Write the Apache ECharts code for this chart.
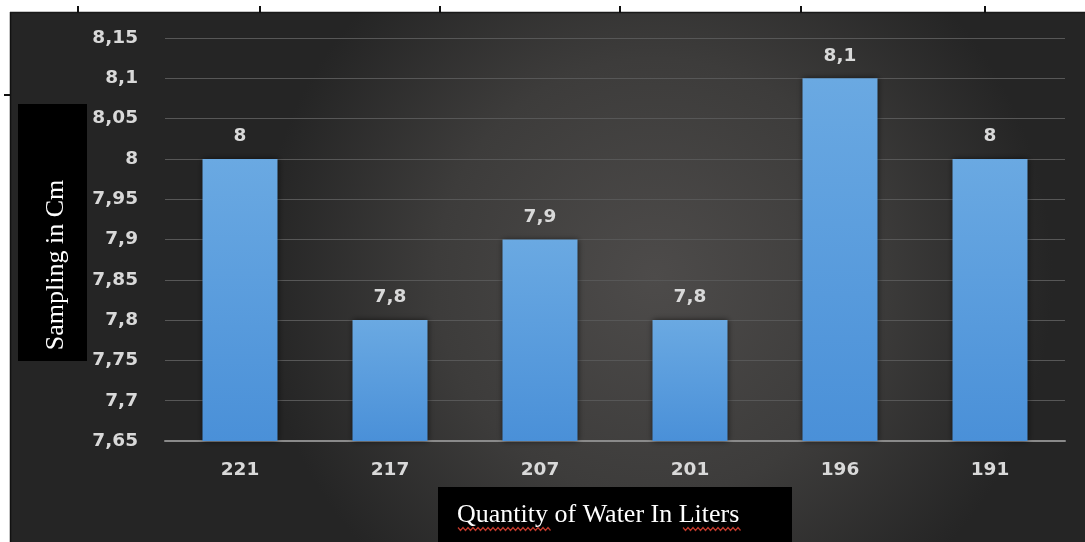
<!DOCTYPE html>
<html>
<head>
<meta charset="utf-8">
<script src="https://cdn.jsdelivr.net/npm/echarts@6/dist/echarts.min.js"></script>
<style>
html,body{margin:0;padding:0;background:#fff;}
#chart{width:1085px;height:542px;}
</style>
</head>
<body>
<div id="chart"></div>
<script>
var categories = ['221', '217', '207', '201', '196', '191'];
var values = [8, 7.8, 7.9, 7.8, 8.1, 8];
var yTitle = 'Sampling in Cm';
var xTitle = 'Quantity of Water In Liters';

function fmt(v) {
  return String(Math.round(v * 100) / 100).replace('.', ',');
}

function squiggle(x0, x1, y) {
  var pts = [];
  var i = 0;
  for (var x = x0; x <= x1; x += 2.5) {
    pts.push([x, y + (i % 2 ? 1.5 : -1.5)]);
    i++;
  }
  return pts;
}

var labelFont = {color: '#d9d9d9', fontSize: 18.5, fontWeight: 'bold', fontFamily: 'DejaVu Sans'};

var chart = echarts.init(document.getElementById('chart'), null, {renderer: 'canvas'});
var topTicks = [78, 260, 440, 620, 801, 985];
var graphics = [
  {
    type: 'rect', z: -10, silent: true,
    shape: {x: 10, y: 12, width: 1075, height: 530},
    style: {
      fill: {
        type: 'radial', x: 0.6, y: 0.5, r: 0.75,
        colorStops: [
          {offset: 0, color: '#4d4b4a'},
          {offset: 0.55, color: '#3d3c3b'},
          {offset: 1, color: '#252525'}
        ]
      }
    }
  },
  {type: 'line', z: 5, silent: true, shape: {x1: 10.5, y1: 12, x2: 10.5, y2: 542}, style: {stroke: '#111', lineWidth: 1.5}},
  {type: 'line', z: 5, silent: true, shape: {x1: 10, y1: 12.5, x2: 1085, y2: 12.5}, style: {stroke: '#1a1a1a', lineWidth: 1.5}},
  {type: 'line', z: 5, silent: true, shape: {x1: 4, y1: 95, x2: 11, y2: 95}, style: {stroke: '#111', lineWidth: 2}},
  {
    type: 'rect', z: 20, silent: true,
    shape: {x: 18, y: 104, width: 69, height: 257},
    style: {fill: '#000'}
  },
  {
    type: 'text', z: 21, silent: true,
    x: 56, y: 265, rotation: Math.PI / 2,
    style: {
      text: yTitle, fill: '#fff', font: '26px "Liberation Serif", serif',
      align: 'center', verticalAlign: 'middle'
    }
  },
  {
    type: 'rect', z: 20, silent: true,
    shape: {x: 438, y: 487, width: 354, height: 55},
    style: {fill: '#000'}
  },
  {
    type: 'text', z: 21, silent: true,
    x: 457, y: 515,
    style: {
      text: xTitle, fill: '#fff', font: '26px "Liberation Serif", serif',
      align: 'left', verticalAlign: 'middle'
    }
  },
  {type: 'polyline', z: 22, silent: true, shape: {points: squiggle(458, 552, 529)}, style: {stroke: '#c0392b', lineWidth: 1.2, fill: null}},
  {type: 'polyline', z: 22, silent: true, shape: {points: squiggle(683, 742, 529)}, style: {stroke: '#c0392b', lineWidth: 1.2, fill: null}}
];
topTicks.forEach(function (x) {
  graphics.push({type: 'line', z: 5, silent: true, shape: {x1: x, y1: 6, x2: x, y2: 13}, style: {stroke: '#111', lineWidth: 2}});
});

chart.setOption({
  backgroundColor: '#ffffff',
  animation: false,
  graphic: graphics,
  grid: {left: 165, right: 20, top: 38, bottom: 101},
  xAxis: {
    type: 'category',
    data: categories,
    axisLine: {lineStyle: {color: '#8a8a8a', width: 2}},
    axisTick: {show: false},
    axisLabel: Object.assign({margin: 20}, labelFont)
  },
  yAxis: {
    type: 'value',
    min: 7.65,
    max: 8.15,
    interval: 0.05,
    axisLine: {show: false},
    axisTick: {show: false},
    splitLine: {lineStyle: {color: '#575757', width: 1}},
    axisLabel: Object.assign({margin: 27, formatter: function (v) { return fmt(v); }}, labelFont)
  },
  series: [{
    type: 'bar',
    data: values,
    barWidth: '50%',
    itemStyle: {
      color: {
        type: 'linear', x: 0, y: 0, x2: 0, y2: 1,
        colorStops: [
          {offset: 0, color: '#6aa9e2'},
          {offset: 1, color: '#4a90d8'}
        ]
      },
      shadowColor: 'rgba(0,0,0,0.6)',
      shadowBlur: 6
    },
    label: Object.assign({
      show: true,
      position: 'top',
      distance: 13,
      formatter: function (p) { return fmt(p.value); }
    }, labelFont)
  }]
});
</script>
</body>
</html>
